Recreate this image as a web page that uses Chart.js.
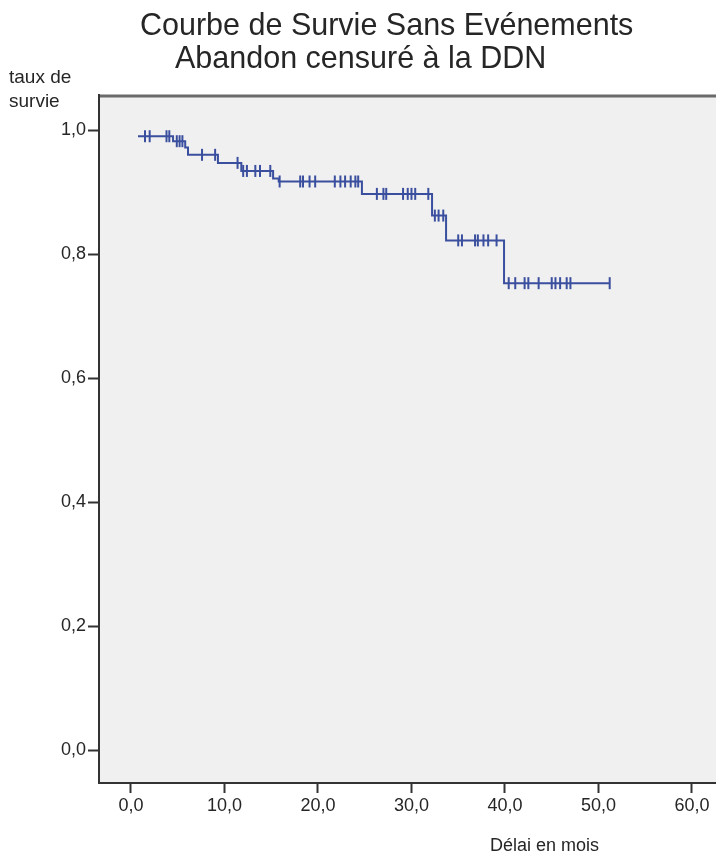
<!DOCTYPE html>
<html>
<head>
<meta charset="utf-8">
<script src="https://cdn.jsdelivr.net/npm/chart.js@4/dist/chart.umd.min.js"></script>
<style>
  html, body { margin: 0; padding: 0; background: #fff; }
  #wrap { width: 716px; height: 865px; position: relative; }
</style>
</head>
<body>
<div id="wrap"><canvas id="myChart"></canvas></div>
<script>
'use strict';

// Kaplan-Meier steps: time of event (months) and survival after it
const eventTimes = [0.75, 4.5, 5.8, 6.1, 9.3, 11.8, 15.2, 15.8, 24.7, 32.2, 33.7, 39.9, 51.2];
const eventSurvival = [0.99, 0.982, 0.972, 0.96, 0.947, 0.934, 0.922, 0.917, 0.897, 0.862, 0.822, 0.753, 0.753];

// censored patients (the + marks)
const censorTimes = [1.5, 2.0, 3.8, 4.1, 4.9, 5.2, 5.5, 7.6, 9.0, 11.4, 12.0, 12.4, 13.3, 13.8, 14.9,
  15.9, 18.1, 18.4, 19.1, 19.7, 21.8, 22.4, 22.9, 23.5, 24.0, 24.3,
  26.3, 27.0, 27.3, 29.1, 29.6, 30.0, 30.4, 31.8,
  32.5, 32.9, 33.4,
  35.0, 35.4, 36.8, 37.1, 37.7, 38.2, 39.1,
  40.4, 41.1, 42.1, 42.5, 43.6, 45.0, 45.4, 45.9, 46.6, 47.0, 51.2];
const censorSurvival = [0.99, 0.99, 0.99, 0.99, 0.982, 0.982, 0.982, 0.96, 0.96, 0.947, 0.934, 0.934, 0.934, 0.934, 0.934,
  0.917, 0.917, 0.917, 0.917, 0.917, 0.917, 0.917, 0.917, 0.917, 0.917, 0.917,
  0.897, 0.897, 0.897, 0.897, 0.897, 0.897, 0.897, 0.897,
  0.862, 0.862, 0.862,
  0.822, 0.822, 0.822, 0.822, 0.822, 0.822, 0.822,
  0.753, 0.753, 0.753, 0.753, 0.753, 0.753, 0.753, 0.753, 0.753, 0.753, 0.753];

const xTicks = [0, 10, 20, 30, 40, 50, 60];
const yTicks = [0, 0.2, 0.4, 0.6, 0.8, 1.0];

const titleLines = ['Courbe de Survie Sans Evénements', 'Abandon censuré à la DDN'];
const yTitle = ['taux de', 'survie'];
const xTitle = 'Délai en mois';

const blue = '#3b4f9f';
const textColor = '#262626';
const fontName = '"Liberation Sans", Arial, sans-serif';

function fmt(v) {
  return Number(v).toFixed(1).replace('.', ',');
}

const curvePoints = [];
for (let i = 0; i < eventTimes.length; i++) {
  curvePoints.push({x: eventTimes[i], y: eventSurvival[i]});
}
const censorPoints = [];
for (let i = 0; i < censorTimes.length; i++) {
  censorPoints.push({x: censorTimes[i], y: censorSurvival[i]});
}

// background, top frame line and the free texts
const decorPlugin = {
  id: 'decor',
  beforeDraw(chart) {
    const ctx = chart.ctx;
    const a = chart.chartArea;
    ctx.save();
    ctx.fillStyle = '#f0f0f0';
    ctx.fillRect(a.left, a.top, a.right - a.left, a.bottom - a.top);
    ctx.strokeStyle = '#6a6a6a';
    ctx.lineWidth = 3;
    ctx.beginPath();
    ctx.moveTo(a.left, a.top + 1);
    ctx.lineTo(a.right, a.top + 1);
    ctx.stroke();
    ctx.restore();
  },
  afterDraw(chart) {
    const ctx = chart.ctx;
    ctx.save();
    ctx.fillStyle = textColor;
    ctx.textBaseline = 'alphabetic';
    ctx.textAlign = 'left';
    ctx.font = '30.5px ' + fontName;
    ctx.fillText(titleLines[0], 140, 35);
    ctx.fillText(titleLines[1], 175, 68);
    ctx.font = '19px ' + fontName;
    ctx.fillText(yTitle[0], 9, 83);
    ctx.fillText(yTitle[1], 9, 107);
    ctx.font = '18px ' + fontName;
    ctx.fillText(xTitle, 490, 851);
    ctx.restore();
  }
};

const config = {
  type: 'line',
  data: {
    datasets: [
      {
        label: 'Survie',
        data: curvePoints,
        stepped: true,
        borderColor: blue,
        borderWidth: 2,
        pointRadius: 0,
        fill: false
      },
      {
        label: 'Censuré',
        type: 'scatter',
        data: censorPoints,
        pointStyle: 'line',
        rotation: 90,
        pointRadius: 6,
        borderColor: blue,
        borderWidth: 2,
        backgroundColor: blue
      }
    ]
  },
  plugins: [decorPlugin],
  options: {
    responsive: false,
    animation: false,
    layout: { autoPadding: false, padding: { left: 0, right: 0, top: 95, bottom: 0 } },
    plugins: {
      legend: { display: false },
      tooltip: { enabled: false },
      title: { display: false }
    },
    scales: {
      x: {
        type: 'linear',
        min: -3.42,
        max: 62.57,
        afterBuildTicks(scale) {
          scale.ticks = xTicks.map(v => ({value: v}));
        },
        afterFit(scale) {
          scale.height = 82;
          scale.paddingLeft = 0;
          scale.paddingRight = 0;
        },
        grid: {
          drawOnChartArea: false,
          drawTicks: true,
          tickLength: 10,
          tickColor: '#333',
          tickWidth: 2
        },
        border: { display: true, color: '#333', width: 2 },
        ticks: {
          callback: v => fmt(v),
          color: textColor,
          font: { family: fontName, size: 18 },
          padding: 2,
          maxRotation: 0,
          autoSkip: false
        }
      },
      y: {
        type: 'linear',
        min: -0.0532,
        max: 1.0565,
        afterBuildTicks(scale) {
          scale.ticks = yTicks.map(v => ({value: v}));
        },
        afterFit(scale) {
          scale.width = 99;
          scale.paddingTop = 0;
          scale.paddingBottom = 0;
        },
        grid: {
          drawOnChartArea: false,
          drawTicks: true,
          tickLength: 11,
          tickColor: '#333',
          tickWidth: 2
        },
        border: { display: true, color: '#333', width: 2 },
        ticks: {
          callback: v => fmt(v),
          color: textColor,
          font: { family: fontName, size: 18 },
          padding: 2,
          autoSkip: false
        }
      }
    }
  }
};

const canvasChart = document.getElementById('myChart');
canvasChart.width = 716;
canvasChart.height = 865;
const myChart = new Chart(canvasChart, config);
</script>
</body>
</html>
